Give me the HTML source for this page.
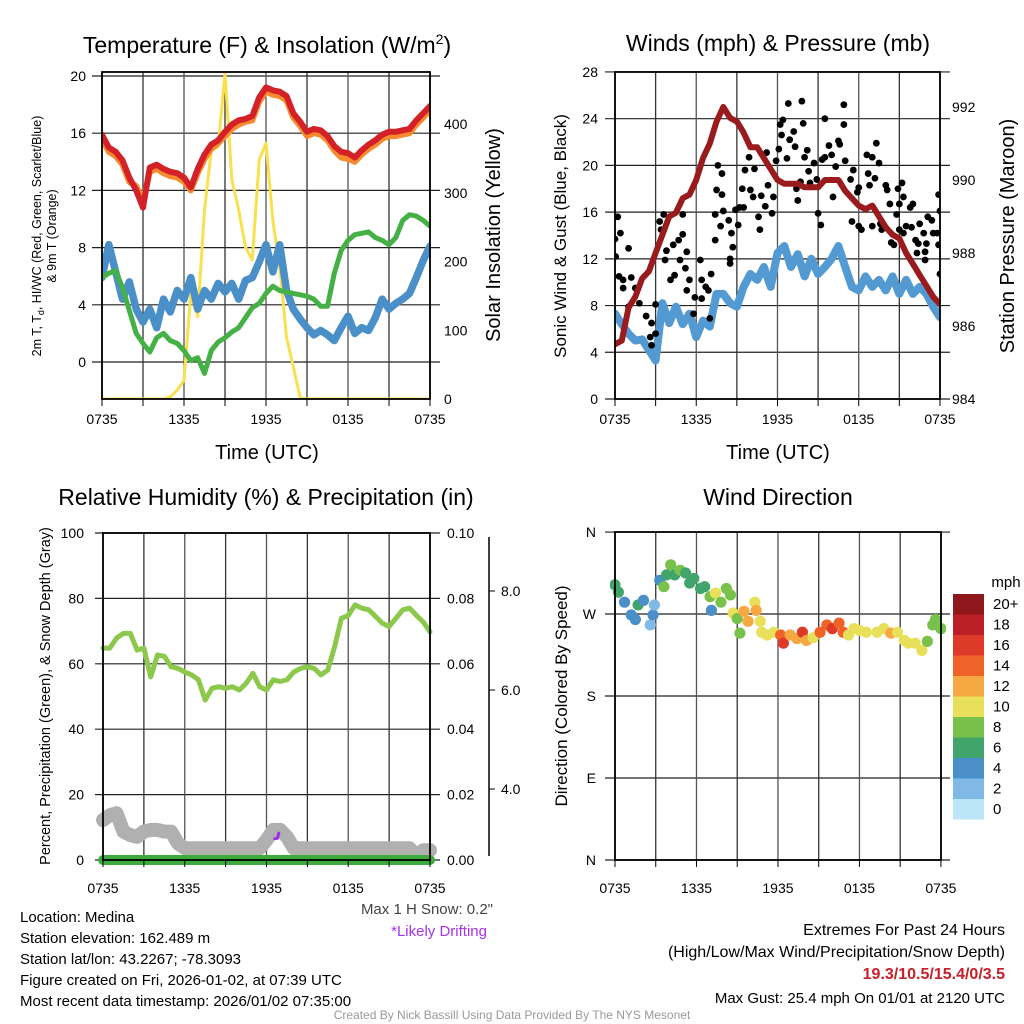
<!DOCTYPE html>
<html><head><meta charset="utf-8"><style>
html,body{margin:0;padding:0;background:#fff;}
svg{display:block;font-family:"Liberation Sans",sans-serif;}
</style></head><body>
<svg id="fig" width="1024" height="1024" viewBox="0 0 1024 1024" xmlns="http://www.w3.org/2000/svg">
<defs>
<clipPath id="c1"><rect x="102" y="72" width="328" height="327"/></clipPath>
<clipPath id="c2"><rect x="615" y="72" width="325" height="327"/></clipPath>
<clipPath id="c3"><rect x="95" y="525" width="345" height="345"/></clipPath>
<clipPath id="c4"><rect x="610" y="532" width="336" height="328"/></clipPath>
</defs>
<g id="grids"></g>
<g id="marks"></g>
<g id="frames"></g>
<text x="267" y="53" font-size="23" text-anchor="middle">Temperature (F) &amp; Insolation (W/m<tspan font-size="14" dy="-9">2</tspan><tspan dy="9">)</tspan></text>
<text x="778" y="51" font-size="23" text-anchor="middle">Winds (mph) &amp; Pressure (mb)</text>
<text x="266" y="505" font-size="23" text-anchor="middle">Relative Humidity (%) &amp; Precipitation (in)</text>
<text x="778" y="505" font-size="23" text-anchor="middle">Wind Direction</text>
<text transform="translate(41,236) rotate(-90)" font-size="12.5" text-anchor="middle">2m T, T<tspan font-size="9" dy="3">d</tspan><tspan dy="-3">, HI/WC (Red, Green, Scarlet/Blue)</tspan></text>
<text transform="translate(56,236) rotate(-90)" font-size="12.5" text-anchor="middle">&amp; 9m T (Orange)</text>
<text transform="translate(500,235) rotate(-90)" font-size="20" text-anchor="middle">Solar Insolation (Yellow)</text>
<text x="267" y="459" font-size="20" text-anchor="middle">Time (UTC)</text>
<text x="778" y="459" font-size="20" text-anchor="middle">Time (UTC)</text>
<text transform="translate(566,236) rotate(-90)" font-size="17" text-anchor="middle">Sonic Wind &amp; Gust (Blue, Black)</text>
<text transform="translate(1014,236) rotate(-90)" font-size="20" text-anchor="middle">Station Pressure (Maroon)</text>
<text transform="translate(50,696) rotate(-90)" font-size="14.5" text-anchor="middle">Percent, Precipitation (Green), &amp; Snow Depth (Gray)</text>
<text transform="translate(567,696) rotate(-90)" font-size="17" text-anchor="middle">Direction (Colored By Speed)</text>
<text x="1006" y="587" font-size="15" text-anchor="middle">mph</text>
<text x="493" y="914" font-size="15" fill="#444" text-anchor="end">Max 1 H Snow: 0.2"</text>
<text x="487" y="936" font-size="15" fill="#a633ee" text-anchor="end">*Likely Drifting</text>
<g font-size="15">
<text x="20" y="922">Location: Medina</text>
<text x="20" y="943">Station elevation: 162.489 m</text>
<text x="20" y="964">Station lat/lon: 43.2267; -78.3093</text>
<text x="20" y="985">Figure created on Fri, 2026-01-02, at 07:39 UTC</text>
<text x="20" y="1006">Most recent data timestamp: 2026/01/02 07:35:00</text>
</g>
<g font-size="16" text-anchor="end">
<text x="1005" y="935">Extremes For Past 24 Hours</text>
<text x="1005" y="957">(High/Low/Max Wind/Precipitation/Snow Depth)</text>
<text x="1005" y="979" fill="#c8202a" font-weight="bold">19.3/10.5/15.4/0/3.5</text>
<text x="1005" y="1003" font-size="15">Max Gust: 25.4 mph On 01/01 at 2120 UTC</text>
</g>
<text x="512" y="1019" font-size="12" fill="#999" text-anchor="middle">Created By Nick Bassill Using Data Provided By The NYS Mesonet</text>
</svg>
<script>
const hours=[0,0.5,1,1.5,2,2.5,3,3.5,4,4.5,5,5.5,6,6.5,7,7.5,8,8.5,9,9.5,10,10.5,11,11.5,12,12.5,13,13.5,14,14.5,15,15.5,16,16.5,17,17.5,18,18.5,19,19.5,20,20.5,21,21.5,22,22.5,23,23.5,24];
const tempRed=[15.9,15.0,14.7,14.1,12.9,12.0,10.8,13.6,13.8,13.5,13.3,13.2,12.9,12.2,13.5,14.5,15.2,15.5,16.1,16.6,16.9,17.0,17.2,18.5,19.2,19.0,18.9,18.6,17.4,16.8,16.1,16.3,16.2,15.8,15.1,14.7,14.6,14.3,14.8,15.2,15.5,15.9,16.1,16.1,16.2,16.3,16.9,17.4,17.9];
const temp9m=[15.6,14.7,14.4,13.8,12.6,12.3,11.2,13.3,13.5,13.2,13.0,12.9,12.6,12.0,13.2,14.2,14.9,15.3,15.8,16.3,16.6,16.8,16.9,18.2,18.9,18.7,18.6,18.3,17.1,16.5,15.8,16.0,15.9,15.5,14.8,14.3,14.2,14.0,14.5,14.9,15.2,15.6,15.8,15.8,15.9,16.0,16.6,17.1,17.6];
const dewGreen=[5.9,6.2,6.4,5.2,3.6,2.0,1.3,0.7,1.7,2.0,1.5,1.3,0.8,0.1,0.3,-0.8,0.8,1.4,1.7,2.1,2.4,3.1,3.8,4.1,4.8,5.3,5.0,4.9,4.8,4.7,4.6,4.4,3.9,3.9,6.2,7.8,8.5,8.9,9.0,9.1,8.7,8.5,8.2,8.7,9.9,10.3,10.2,9.9,9.5];
const windChill=[5.9,8.2,6.3,4.4,5.6,3.7,2.8,3.7,2.4,4.4,3.5,5.0,4.4,5.9,3.7,5.0,4.4,5.5,4.9,5.5,4.4,5.7,5.9,7.0,8.2,6.3,8.2,5.0,3.7,3.0,2.4,1.9,2.2,1.9,1.5,2.4,3.2,2.0,2.4,2.2,3.1,4.4,3.7,4.1,4.4,4.8,5.9,7.1,8.1];
const solar=[0,0,0,0,0,0,0,0,0,0,3,13,27,153,120,275,362,367,474,319,275,221,202,348,372,260,193,90,47,2,0,0,0,0,0,0,0,0,0,0,0,0,0,0,0,0,0,0,0];
const windSonic=[7.3,6.4,5.6,5.0,5.1,4.2,3.3,8.2,6.5,7.9,6.4,7.3,5.3,6.7,6.2,9.0,9.0,8.2,7.9,9.6,10.7,10.2,11.3,9.6,12.5,13.1,11.3,12.4,10.5,12.0,10.7,11.3,12.0,13.1,11.3,9.6,9.3,10.5,9.6,10.2,9.3,10.5,9.0,10.2,9.0,9.6,9.0,7.9,7.0];
const pressure=[985.5,985.6,986.5,986.8,987.3,987.5,988.0,988.5,989.0,989.1,989.5,989.6,990.0,990.6,991.0,991.6,992.0,991.7,991.6,991.3,990.9,990.9,990.6,990.3,990.0,989.9,989.9,989.9,989.8,989.8,989.8,990.0,990.0,990.0,989.7,989.5,989.3,989.2,989.3,989.0,988.7,988.5,988.4,988.0,987.7,987.4,987.1,986.8,986.6];
const gustHours=[0,0.2,0.4,0.05,0.3,0.6,1.0,0.6,1.2,1.5,1.0,1.8,2.3,2.6,3.0,2.7,2.7,3.0,3.3,3.6,3.4,3.8,3.7,4.1,4.4,4.3,4.7,5.0,5.0,4.8,5.3,5.2,5.5,5.3,5.9,6.3,6.4,5.8,6.7,6.9,7.1,7.0,6.4,7.4,7.8,7.6,7.9,7.5,7.9,7.4,8.0,8.4,8.6,8.7,8.5,8.5,8.9,9.1,9.2,9.4,9.6,9.5,9.9,10.0,10.2,10.3,10.6,10.7,10.8,11.1,11.2,11.3,11.6,11.7,11.9,12.1,12.2,12.4,12.3,12.7,12.8,12.9,13.2,13.3,13.4,13.5,13.7,13.8,13.9,14.0,14.2,14.3,14.4,14.7,14.9,15.0,15.2,15.3,15.5,15.5,15.8,16.0,16.3,16.1,16.5,16.6,16.9,16.9,17.0,17.4,17.5,17.6,17.9,18.0,18.0,18.2,18.6,18.7,18.8,19.0,19.0,19.2,19.3,19.5,19.6,19.7,20.0,20.1,20.3,20.4,20.6,20.8,20.9,21.0,21.2,21.3,21.0,21.3,21.5,21.8,22.0,21.9,22.2,22.4,22.3,22.5,22.8,22.9,22.9,23.0,23.1,23.4,23.5,23.8,23.9,24.0,23.9,24.0];
const gustValues=[13.7,15.6,14.2,12.2,10.5,10.2,12.9,9.5,10.4,9.5,7.9,8.2,7.1,5.3,5.6,6.5,4.6,8.1,15.2,15.8,14.5,12.7,11.9,10.2,10.6,13.2,13.6,14.1,15.8,11.9,12.6,11.2,10.2,9.3,8.7,11.9,10.2,7.3,9.6,9.3,10.7,6.9,8.6,15.8,14.8,20.0,19.3,17.9,17.5,13.6,16.1,15.3,14.2,13.0,12.0,11.6,16.2,14.9,16.4,18.0,19.6,16.4,20.7,17.9,17.3,19.7,15.6,14.5,17.4,16.5,21.1,18.3,15.9,17.3,20.4,21.4,23.5,23.9,22.6,20.6,25.3,22.2,22.9,21.6,18.0,17.0,18.6,25.5,23.6,20.7,21.3,19.5,18.5,20.2,18.8,15.9,14.9,20.5,24.0,20.7,21.7,20.9,19.9,17.3,22.1,21.8,25.2,23.5,20.4,18.8,15.2,19.6,17.7,18.1,14.8,14.5,20.9,19.3,18.3,20.7,14.8,18.9,21.9,20.2,15.0,14.5,18.3,17.9,16.7,13.4,13.2,15.8,18.0,16.7,18.5,17.3,14.5,14.2,14.8,16.4,16.7,14.7,13.6,13.3,12.5,15.0,14.2,12.6,11.9,13.3,15.6,15.3,14.2,14.2,17.5,16.1,13.2,10.7];
const rhValues=[64.8,64.8,67.9,69.3,69.3,64.2,64.8,56.0,62.7,62.3,59.1,58.6,57.5,56.6,55.1,48.9,52.5,53.0,52.5,53.0,52.0,54.0,57.1,53.0,52.0,55.1,54.6,55.1,57.5,58.6,59.1,58.6,56.6,58.1,65.2,73.9,74.8,78.0,77.0,76.5,74.5,72.4,71.4,73.9,76.5,77.0,74.8,72.8,69.8];
const snowDepth=[12.2,13.7,14.3,8.7,7.6,7.1,8.7,9.2,9.2,8.7,8.7,5.1,3.6,3.6,3.6,3.6,3.6,3.6,3.6,3.6,3.6,3.6,3.6,3.6,6.1,9.2,9.2,7.1,3.6,3.6,3.6,3.6,3.6,3.6,3.6,3.6,3.6,3.6,3.6,3.6,3.6,3.6,3.6,3.6,3.6,3.6,1.0,3.0,3.0];
const precipValues=[0,0,0,0,0,0,0,0,0,0,0,0,0,0,0,0,0,0,0,0,0,0,0,0,0,0,0,0,0,0,0,0,0,0,0,0,0,0,0,0,0,0,0,0,0,0,0,0,0];
const driftHours=[12.6,12.8,12.9];
const driftValues=[6.5,6.6,8.2];
const dirHours=[0,0.25,0.7,1.2,1.5,1.7,2.1,2.6,2.8,2.9,3.3,3.6,3.8,4.1,4.4,4.8,5.2,5.5,5.8,6.3,6.6,7.0,7.1,7.4,7.8,8.2,8.5,8.7,9.0,9.2,9.5,9.8,10.3,10.4,10.7,10.8,11.2,11.7,12.2,12.4,12.9,13.4,13.8,14.1,14.6,15.1,15.6,16.0,16.5,16.8,17.2,17.6,18.0,18.5,19.3,19.8,20.3,20.8,21.3,21.6,22.1,22.6,23.0,23.4,23.6,24.0];
const dirDegrees=[302,294,283,269,264,280,285,258,269,280,307,300,313,324,313,318,315,304,309,298,300,289,274,293,283,298,291,271,265,249,273,262,283,274,262,250,247,250,247,238,247,243,250,241,244,250,258,254,260,250,247,254,252,250,250,254,249,250,241,238,238,230,240,258,264,254];
const dirSpeeds=[5,6,4,4,4,5,4,2,3,2,4,7,6,7,6,7,5,6,6,5,6,7,4,9,7,8,7,9,8,8,12,11,10,12,9,10,9,10,14,15,12,12,15,12,10,13,14,15,14,13,10,9,10,10,10,9,11,10,10,9,9,10,8,7,7,7];
const cbLabels=["20+","18","16","14","12","10","8","6","4","2","0"];
const cbColors=["#8e181c","#bb1f27","#dd3a2a","#ef6328","#f6a842","#e8e05a","#78c14a","#41a56b","#4a8fc8","#80b9e5","#bde5f8"];

const NS="http://www.w3.org/2000/svg";
const grids=document.getElementById('grids'),marks=document.getElementById('marks'),frames=document.getElementById('frames');
function mk(parent,tag,attrs){const e=document.createElementNS(NS,tag);for(const k in attrs)e.setAttribute(k,attrs[k]);parent.appendChild(e);return e;}
function txt(parent,x,y,s,size,anchor,fill){const e=mk(parent,'text',{x:x,y:y,'font-size':size,'text-anchor':anchor,fill:fill||'#000'});e.textContent=s;return e;}
function pathFrom(xs,ys,fx,fy){let d='';for(let i=0;i<xs.length;i++){d+=(i?'L':'M')+fx(xs[i]).toFixed(1)+','+fy(ys[i]).toFixed(1);}return d;}

const p1x=h=>102+h*13.667, p1y=t=>362-t*14.3, p1s=w=>399-w*0.6875;
const p2x=h=>615+h*13.54, p2y=v=>399-v*11.68, p2p=p=>399-(p-984)*36.5;
const p3x=h=>103+h*13.625, p3y=r=>860-r*3.27, p3snow=s=>860-s*3.27;
const p4x=h=>615+h*13.58, p4y=d=>860-d*0.911;

const timeTicks=["0735","1335","1935","0135","0735"];
function panelFrame(name,x0,x1,y0,y1,fx,hy){
  for(let k=0;k<=8;k++){const x=fx(k*3);
    const g=mk(grids,'line',{x1:x,x2:x,y1:y0,y2:y1,stroke:k%2?'#333':'#555','stroke-width':1.3});
    
    
    mk(frames,'line',{x1:x,x2:x,y1:y1,y2:y1+7,stroke:'#000','stroke-width':1});
  }
  const r=mk(frames,'rect',{x:x0,y:y0,width:x1-x0,height:y1-y0,fill:'none',stroke:'#000','stroke-width':1.8});
  
  
  timeTicks.forEach((s,i)=>{const t=txt(frames,fx(i*6),hy,s,14,'middle');
    
    });
}
function hgrid(name,x0,x1,y,label,lx,anchor){
  const g=mk(grids,'line',{x1:x0,x2:x1,y1:y,y2:y,stroke:'#222','stroke-width':1.2});
  
  
  if(label!==null){const t=txt(frames,lx,y+5,label,14,anchor);
    
    }
}

[0,4,8,12,16,20].forEach(v=>{hgrid('temp',92,440,p1y(v),String(v),86,'end');});
[0,100,200,300,400].forEach(v=>{const t=txt(frames,444,p1s(v)+5,String(v),14,'start');
  
  });
panelFrame('temp',102,430,72,399,p1x,424);
const g1=mk(marks,'g',{'clip-path':'url(#c1)',fill:'none','stroke-linejoin':'round','stroke-linecap':'round'});
let e;
e=mk(g1,'path',{d:pathFrom(hours,solar,p1x,p1s),stroke:'#f9e04e','stroke-width':3});


e=mk(g1,'path',{d:pathFrom(hours,windChill,p1x,p1y),stroke:'#4a8fc8','stroke-width':7.5});


e=mk(g1,'path',{d:pathFrom(hours,dewGreen,p1x,p1y),stroke:'#45b045','stroke-width':5});


e=mk(g1,'path',{d:pathFrom(hours,temp9m,p1x,p1y),stroke:'#f58a2e','stroke-width':6});


e=mk(g1,'path',{d:pathFrom(hours,tempRed,p1x,p1y),stroke:'#d42027','stroke-width':6});



[0,4,8,12,16,20,24,28].forEach(v=>{hgrid('wind',605,950,p2y(v),String(v),598,'end');});
[984,986,988,990,992].forEach(v=>{const t=txt(frames,952,p2p(v)+5,String(v),14,'start');
  
  });
panelFrame('wind',615,940,72,399,p2x,424);
const g2=mk(marks,'g',{'clip-path':'url(#c2)','stroke-linejoin':'round','stroke-linecap':'round'});
e=mk(g2,'path',{d:pathFrom(hours,windSonic,p2x,p2y),stroke:'#5399d2','stroke-width':8,fill:'none'});


gustHours.forEach((h,i)=>{const c=mk(g2,'circle',{cx:p2x(h),cy:p2y(gustValues[i]),r:3.4,fill:'#000'});
  
  });
e=mk(g2,'path',{d:pathFrom(hours,pressure,p2x,p2p),stroke:'#9a1b1e','stroke-width':6,fill:'none'});



[0,20,40,60,80,100].forEach(v=>{hgrid('humidity',95,440,p3y(v),String(v),84,'end');});
["0.00","0.02","0.04","0.06","0.08","0.10"].forEach((s,i)=>{const t=txt(frames,447,p3y(i*20)+5,s,14,'start');
  
  });
e=mk(frames,'line',{x1:489,x2:489,y1:537,y2:856,stroke:'#000','stroke-width':1.5});


[[8.0,591],[6.0,690],[4.0,789]].forEach(a=>{mk(frames,'line',{x1:489,x2:495,y1:a[1],y2:a[1],stroke:'#000'});
  const t=txt(frames,501,a[1]+5,a[0].toFixed(1),14,'start');
  
  });
panelFrame('humidity',103,430,533,860,p3x,893);
const g3=mk(marks,'g',{'clip-path':'url(#c3)',fill:'none','stroke-linejoin':'round','stroke-linecap':'round'});
e=mk(g3,'path',{d:pathFrom(hours,snowDepth,p3x,p3snow),stroke:'#b0b0b0','stroke-width':14});


e=mk(g3,'path',{d:pathFrom(driftHours,driftValues,p3x,p3snow),stroke:'#9b30e0','stroke-width':3});


e=mk(g3,'path',{d:pathFrom(hours,precipValues,p3x,p3y),stroke:'#3caa3c','stroke-width':10});


e=mk(g3,'path',{d:pathFrom(hours,rhValues,p3x,p3y),stroke:'#8cc84b','stroke-width':5});



[["N",0],["E",90],["S",180],["W",270],["N",360]].forEach(a=>{hgrid('direction',605,950,p4y(a[1]),a[0],596,'end');});
panelFrame('direction',615,941,532,860,p4x,893);
const g4=mk(marks,'g',{'clip-path':'url(#c4)'});
dirHours.forEach((h,i)=>{const idx=10-Math.min(10,Math.round(dirSpeeds[i]/2));
  const c=mk(g4,'circle',{cx:p4x(h),cy:p4y(dirDegrees[i]),r:5.6,fill:cbColors[idx]});
  
  });
cbLabels.forEach((s,i)=>{const y=594+i*20.5;
  const r=mk(frames,'rect',{x:953,y:y,width:31,height:20.5,fill:cbColors[i]});
  
  
  const t=txt(frames,993,y+15,s,15,'start');
  
  });
</script>
</body></html>
